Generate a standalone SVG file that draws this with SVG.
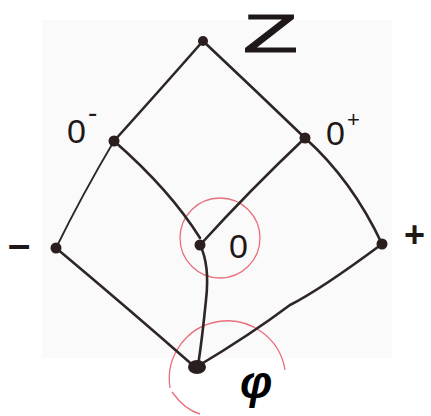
<svg xmlns="http://www.w3.org/2000/svg" width="431" height="416" viewBox="0 0 431 416">
<style>
.e{fill:none;stroke:#2e2626;stroke-width:2.6;stroke-linecap:round}
.r{fill:none;stroke:#e8707e;stroke-width:1.3}
.n{fill:#2a1e1e}
.t{font-family:"Liberation Sans",sans-serif;fill:#1f1818}
</style>
<rect width="431" height="416" fill="#ffffff"/>
<rect x="42" y="20" width="350" height="338" fill="#fafafa"/>
<g id="highlights">
<circle class="r" cx="220" cy="238" r="40"/>
<path class="r" d="M170,388 A57,57 0 1 1 285,370"/>
<path class="r" d="M172,392 Q185,410 200,414"/>
</g>
<g id="connectors">
<path class="e" d="M203,41 Q160,90 114,141"/>
<path class="e" d="M203,41 Q255,90 305,138"/>
<path class="e" d="M114,141 Q82,195 56,248" style="stroke-width:1.8"/>
<path class="e" d="M114,141 Q170,190 200,238"/>
<path class="e" d="M305,138 Q250,190 200,245"/>
<path class="e" d="M305,138 Q352,180 382,244"/>
<path class="e" d="M56,248 Q130,310 196,368"/>
<path class="e" d="M200,245 Q210,265 206,300 Q202,340 198,366"/>
<path class="e" d="M382,244 Q320,290 290,305 Q250,335 198,366"/>
</g>
<g id="Z"><circle class="n" cx="203" cy="41" r="5"/><text class="t" x="243" y="52" font-size="54" textLength="55" lengthAdjust="spacingAndGlyphs" stroke="#1f1818" stroke-width="1">Z</text></g>
<g id="Ominus"><circle class="n" cx="114" cy="141" r="5.5"/><text class="t" x="67" y="143" font-size="34">0<tspan x="88" y="122" font-size="28">-</tspan></text></g>
<g id="Oplus"><circle class="n" cx="305" cy="138" r="5.5"/><text class="t" x="326" y="145" font-size="34">0<tspan x="347" y="127" font-size="22">+</tspan></text></g>
<g id="minus"><circle class="n" cx="56" cy="248" r="5.5"/><text class="t" x="8" y="258" font-size="40" font-weight="bold">–</text></g>
<g id="O"><circle class="n" cx="200" cy="245" r="5.5"/><text class="t" x="229" y="258" font-size="34">0</text></g>
<g id="plus"><circle class="n" cx="382" cy="244" r="5.5"/><text class="t" x="404" y="247" font-size="36" font-weight="bold">+</text></g>
<g id="phi"><ellipse class="n" cx="197" cy="367" rx="9" ry="7"/><text class="t" x="240" y="398" font-size="46" font-weight="bold" font-style="italic" style="fill:#000">φ</text></g>
</svg>
